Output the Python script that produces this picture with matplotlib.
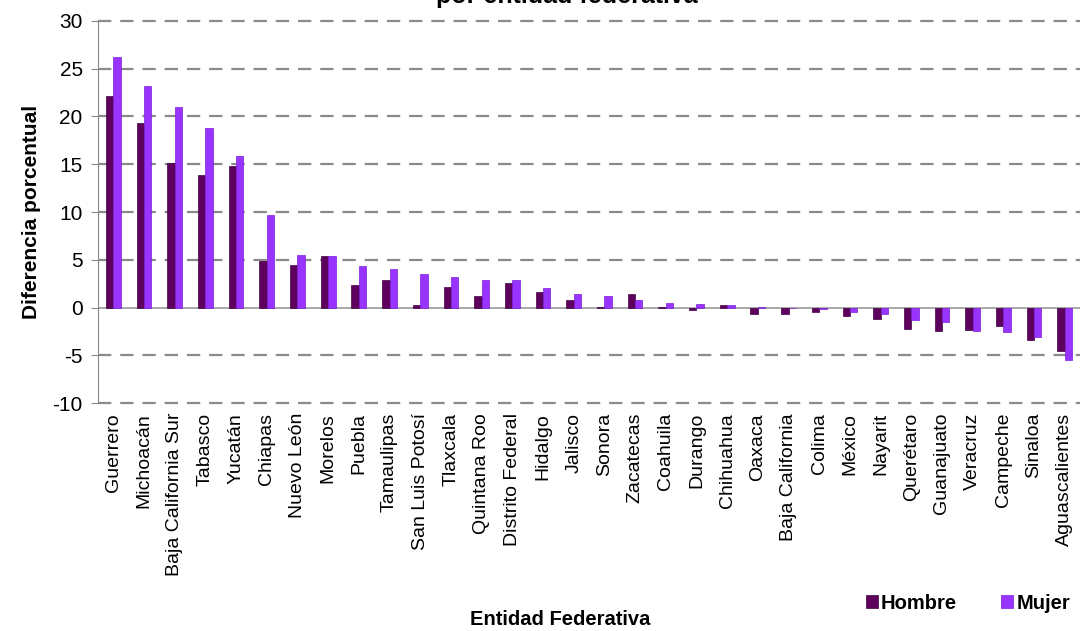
import matplotlib
matplotlib.use("Agg")
import matplotlib.pyplot as plt
import numpy as np

plt.rcParams["font.family"] = ["Liberation Sans", "DejaVu Sans"]
plt.rcParams["axes.unicode_minus"] = False

estados = ["Guerrero", "Michoacán", "Baja California Sur", "Tabasco", "Yucatán",
           "Chiapas", "Nuevo León", "Morelos", "Puebla", "Tamaulipas",
           "San Luis Potosí", "Tlaxcala", "Quintana Roo", "Distrito Federal",
           "Hidalgo", "Jalisco", "Sonora", "Zacatecas", "Coahuila", "Durango",
           "Chihuahua", "Oaxaca", "Baja California", "Colima", "México",
           "Nayarit", "Querétaro", "Guanajuato", "Veracruz", "Campeche",
           "Sinaloa", "Aguascalientes"]
hombre = [22.1, 19.3, 15.1, 13.9, 14.8, 4.9, 4.5, 5.4, 2.4, 2.9,
          0.3, 2.2, 1.2, 2.6, 1.6, 0.8, 0.05, 1.4, 0.05, -0.3,
          0.25, -0.7, -0.7, -0.5, -0.85, -1.2, -2.2, -2.4, -2.3, -1.95,
          -3.35, -4.55]
mujer = [26.2, 23.2, 21.0, 18.8, 15.9, 9.7, 5.5, 5.4, 4.4, 4.0,
         3.5, 3.2, 2.9, 2.9, 2.0, 1.4, 1.2, 0.8, 0.5, 0.4,
         0.25, 0.1, 0.0, -0.1, -0.5, -0.7, -1.3, -1.5, -2.4, -2.6,
         -3.1, -5.5]
yticks = [-10, -5, 0, 5, 10, 15, 20, 25, 30]

C_H, C_M = "#5E005E", "#9933FF"
GRID = "#8a8a8a"

fig = plt.figure(figsize=(10.84, 6.31), dpi=100)
ax = fig.add_axes([0.0904, 0.361, 0.906, 0.606])

x = np.arange(len(estados))
w = 0.24
ax.bar(x - w / 2, hombre, w, color=C_H, edgecolor="#3e003e", linewidth=0.5,
       label="Hombre", zorder=3)
ax.bar(x + w / 2, mujer, w, color=C_M, edgecolor="#7a1fd6", linewidth=0.5,
       label="Mujer", zorder=3)

ax.set_xlim(-0.5, len(estados) - 0.5)
ax.set_ylim(-10, 30)
ax.set_yticks(yticks)
for v in yticks:
    if v != 0:
        ax.axhline(v, color=GRID, linewidth=1.6, dashes=(6, 4), zorder=1,
                   clip_on=False)
ax.axhline(0, color="#999999", linewidth=1.2, zorder=2)

for s in ["top", "right", "bottom"]:
    ax.spines[s].set_visible(False)
ax.spines["left"].set_color("#888888")
ax.tick_params(axis="y", direction="out", length=5, color="#888888",
               labelsize=15, pad=6)
ax.set_xticks(x, estados, rotation=90, fontsize=14)
ax.tick_params(axis="x", length=0, pad=7)

ax.set_ylabel("Diferencia porcentual", fontsize=15, fontweight="bold", labelpad=8)
fig.text(0.517, 0.003, "Entidad Federativa", ha="center", va="bottom",
         fontsize=14.5, fontweight="bold")
# title sits mostly above the image edge, as in the source
fig.text(0.523, 1 - 3 / 631, "por entidad federativa", ha="center",
         va="baseline", fontsize=18, fontweight="bold")

ax.legend(loc="center", bbox_to_anchor=(0.893, 0.044),
          bbox_transform=fig.transFigure, ncol=2, frameon=False,
          handlelength=0.6, handleheight=0.6, handletextpad=0.15,
          columnspacing=2.2, prop={"size": 14.5, "weight": "bold"})

fig.savefig("out.png", dpi=100)
